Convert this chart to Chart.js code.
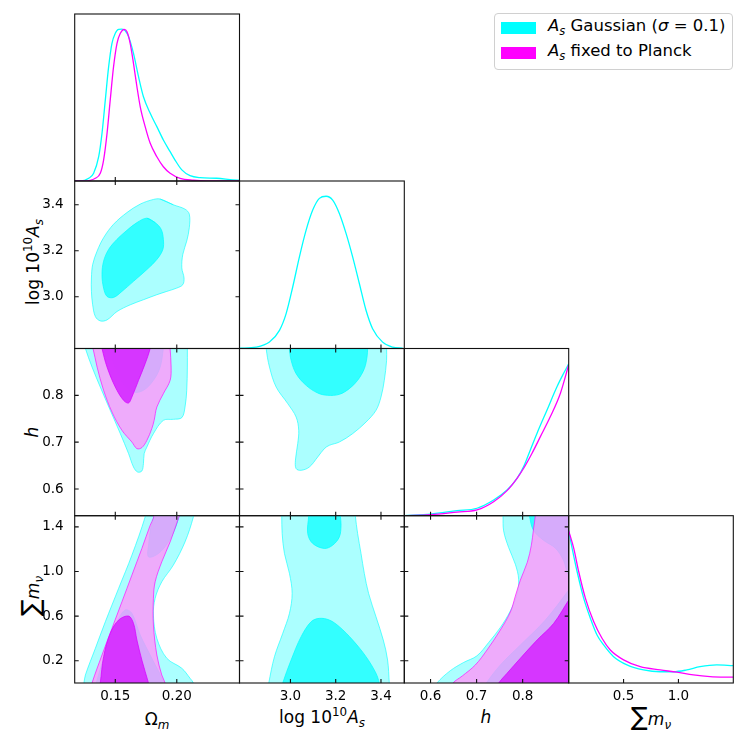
<!DOCTYPE html>
<html>
<head>
<meta charset="utf-8">
<script src="https://cdn.jsdelivr.net/npm/chart.js@4.4.1/dist/chart.umd.min.js"></script>
<style>
  body { margin: 0; width: 747px; height: 747px; position: relative; overflow: hidden; background: #fff; font-family: "DejaVu Sans", sans-serif; }
  canvas { position: absolute; left: 0; top: 0; }
  .lab { position: absolute; font-size: 17px; white-space: nowrap; transform: translate(-50%, -50%); color: #000; }
  .rot { transform: translate(-50%, -50%) rotate(-90deg); }
  .lab sub, .lab sup, .legend sub { font-size: 70%; line-height: 0; }
  .big { font-size: 25px; }
  .legend { position: absolute; left: 494px; top: 13px; width: 239px; height: 57px; box-sizing: border-box; border: 1px solid #d0d0d0; border-radius: 4px; background: #fff; font-size: 16.5px; }
  .legend .sw { position: absolute; left: 6px; width: 35px; height: 12px; }
  .legend .t { position: absolute; left: 53px; white-space: nowrap; }
</style>
</head>
<body>
<div class="legend">
  <div class="sw" style="top:8px;background:#00ffff"></div>
  <div class="t" style="top:2px"><i>A</i><sub><i>s</i></sub> Gaussian (<i>σ</i> = 0.1)</div>
  <div class="sw" style="top:33px;background:#ff00ff"></div>
  <div class="t" style="top:27px"><i>A</i><sub><i>s</i></sub> fixed to Planck</div>
</div>
<div class="lab" style="left:157px;top:719px">Ω<sub><i>m</i></sub></div>
<div class="lab" style="left:322px;top:717px">log 10<sup>10</sup><i>A</i><sub><i>s</i></sub></div>
<div class="lab" style="left:486px;top:717px"><i>h</i></div>
<div class="lab" style="left:651px;top:716px"><span class="big">∑</span><i>m</i><sub><i>ν</i></sub></div>
<div class="lab rot" style="left:33px;top:262px">log 10<sup>10</sup><i>A</i><sub><i>s</i></sub></div>
<div class="lab rot" style="left:32px;top:432px"><i>h</i></div>
<div class="lab rot" style="left:30px;top:596px"><span class="big">∑</span><i>m</i><sub><i>ν</i></sub></div>
<script>
// axis limits and ticks
const omRange = [0.117, 0.251];
const asRange = [2.775, 3.503];
const hRange = [0.543, 0.9];
const mnuRange = [0, 1.5];
const pdfRange = [0, 1.1];
const omTicks = [0.15, 0.20];
const asTicks = [3.0, 3.2, 3.4];
const hTicks = [0.6, 0.7, 0.8];
const mnuTicks = [0.2, 0.6, 1.0, 1.4];
const mnuMargTicks = [0.5, 1.0];

// 1D marginals (peak normalised to 1)
const omX_c = [0.117, 0.1216, 0.1284, 0.1324, 0.1365, 0.1392, 0.1419, 0.1446, 0.1473, 0.15, 0.1527, 0.1554, 0.1581, 0.1608, 0.1648, 0.1689, 0.1729, 0.1784, 0.1838, 0.1891, 0.1946, 0.1986, 0.2041, 0.2108, 0.2189, 0.2324, 0.2459, 0.251];
const omY_c = [0, 0, 0.018, 0.051, 0.160, 0.314, 0.534, 0.753, 0.907, 0.973, 0.999, 1.0, 0.990, 0.951, 0.841, 0.687, 0.555, 0.446, 0.358, 0.270, 0.193, 0.138, 0.073, 0.035, 0.022, 0.018, 0.007, 0.005];
const omX_m = [0.117, 0.1243, 0.1338, 0.1378, 0.1405, 0.1433, 0.1459, 0.1486, 0.1514, 0.1541, 0.1573, 0.1595, 0.1621, 0.1648, 0.1676, 0.1703, 0.1743, 0.1784, 0.1838, 0.1891, 0.1946, 0.2027, 0.2135, 0.2243, 0.251];
const omY_m = [0, 0, 0.018, 0.051, 0.138, 0.314, 0.534, 0.753, 0.907, 0.973, 0.999, 0.983, 0.907, 0.775, 0.621, 0.489, 0.358, 0.248, 0.160, 0.094, 0.051, 0.018, 0.005, 0, 0];
const asX = [2.775, 2.8487, 2.9074, 2.9515, 2.981, 3.0101, 3.0397, 3.0693, 3.0984, 3.1279, 3.1575, 3.1866, 3.2161, 3.2457, 3.2748, 3.3044, 3.3339, 3.363, 3.4072, 3.4513, 3.4954];
const asY = [0.002, 0.009, 0.042, 0.119, 0.229, 0.404, 0.602, 0.777, 0.909, 0.986, 1.0, 0.975, 0.887, 0.756, 0.602, 0.427, 0.251, 0.130, 0.042, 0.009, 0.002];
const hX_c = [0.543, 0.5999, 0.6574, 0.7009, 0.737, 0.7661, 0.7878, 0.8022, 0.8167, 0.8313, 0.853, 0.8748, 0.8891, 0.9];
const hY_c = [0, 0.011, 0.033, 0.049, 0.103, 0.169, 0.246, 0.323, 0.433, 0.543, 0.696, 0.850, 0.937, 0.999];
const hX_m = [0.543, 0.5999, 0.6574, 0.7009, 0.737, 0.7661, 0.7878, 0.8022, 0.8204, 0.8385, 0.8602, 0.882, 0.9];
const hY_m = [0, 0.007, 0.024, 0.038, 0.092, 0.165, 0.246, 0.312, 0.411, 0.520, 0.652, 0.806, 0.993];
const mnuX_c = [0, 0.0309, 0.0764, 0.1364, 0.1973, 0.2582, 0.3182, 0.4091, 0.5309, 0.6818, 0.8336, 0.9545, 1.0764, 1.1973, 1.3491, 1.4973];
const mnuY_c = [1.0, 0.887, 0.733, 0.558, 0.426, 0.316, 0.250, 0.173, 0.119, 0.086, 0.074, 0.074, 0.086, 0.107, 0.119, 0.114];
const mnuX_m = [0, 0.0455, 0.0909, 0.1518, 0.2273, 0.3036, 0.3791, 0.5, 0.6518, 0.8336, 0.9855, 1.1364, 1.2882, 1.4973];
const mnuY_m = [1.0, 0.887, 0.733, 0.558, 0.404, 0.294, 0.217, 0.152, 0.107, 0.086, 0.071, 0.053, 0.042, 0.038];

// 2D contours (68% / 95%), [x, y] vertices
const omAsC95 = [[0.1865,3.4245],[0.1972,3.3996],[0.2067,3.3807],[0.2102,3.3589],[0.2102,3.3002],[0.2081,3.242],[0.2049,3.1838],[0.2041,3.1252],[0.2059,3.0814],[0.2049,3.0525],[0.2,3.0376],[0.1919,3.0232],[0.1838,3.0088],[0.1729,2.9869],[0.1622,2.965],[0.1514,2.9357],[0.1433,2.8993],[0.1378,2.895],[0.1338,2.9138],[0.1316,2.965],[0.1306,3.0232],[0.1306,3.0814],[0.1316,3.14],[0.1352,3.1982],[0.1405,3.2565],[0.1486,3.3151],[0.1595,3.3659],[0.1703,3.4026],[0.181,3.4228]];
const omAsC68 = [[0.1757,3.3414],[0.1824,3.3221],[0.1873,3.2932],[0.1891,3.2495],[0.1887,3.2057],[0.1838,3.1619],[0.1757,3.1182],[0.1648,3.067],[0.1554,3.0232],[0.1486,2.9969],[0.1433,3.0013],[0.1405,3.0376],[0.1392,3.0963],[0.1405,3.1545],[0.1446,3.2057],[0.1514,3.2495],[0.1595,3.2888],[0.1676,3.3221]];

const omHC95 = [[0.122,0.935],[0.1257,0.9],[0.1311,0.8604],[0.1378,0.8177],[0.1459,0.768],[0.1541,0.7182],[0.1608,0.6756],[0.1648,0.647],[0.1681,0.6363],[0.1716,0.6384],[0.1729,0.6542],[0.1735,0.6756],[0.1757,0.6896],[0.181,0.7182],[0.1891,0.7466],[0.1972,0.7488],[0.2041,0.7524],[0.2067,0.775],[0.2081,0.8107],[0.2086,0.8604],[0.2086,0.9],[0.2086,0.935]];
const omHC68 = [[0.143,0.935],[0.1459,0.9],[0.15,0.8604],[0.1567,0.825],[0.1648,0.807],[0.1729,0.8107],[0.181,0.832],[0.1865,0.8604],[0.1891,0.9],[0.191,0.935]];
const omHM95 = [[0.128,0.935],[0.1319,0.9],[0.1352,0.8604],[0.1405,0.8107],[0.1473,0.7644],[0.1554,0.7253],[0.1635,0.7003],[0.1676,0.6862],[0.1716,0.6884],[0.1757,0.7039],[0.1797,0.7289],[0.1816,0.7466],[0.1838,0.775],[0.1891,0.8036],[0.1946,0.832],[0.1954,0.8604],[0.1946,0.9],[0.194,0.935]];
const omHM68 = [[0.1365,0.935],[0.1392,0.9],[0.1433,0.8604],[0.15,0.8177],[0.1567,0.7893],[0.1608,0.7836],[0.1635,0.7964],[0.1689,0.832],[0.1743,0.8677],[0.1784,0.9],[0.181,0.935]];

const asHC95 = [[2.888,0.935],[2.8928,0.9],[2.9074,0.8604],[2.9369,0.8177],[2.9881,0.7823],[3.0251,0.7537],[3.0366,0.7253],[3.0322,0.6969],[3.0221,0.6617],[3.0251,0.6435],[3.0472,0.6399],[3.0838,0.647],[3.1204,0.6683],[3.15,0.6862],[3.172,0.6933],[3.2161,0.7003],[3.2748,0.7182],[3.3339,0.743],[3.378,0.768],[3.4001,0.7964],[3.4147,0.832],[3.4248,0.8747],[3.4248,0.9],[3.4248,0.935]];
const asHC68 = [[2.994,0.935],[2.9956,0.9],[3.0031,0.8747],[3.0251,0.8463],[3.0693,0.8213],[3.1204,0.805],[3.1645,0.8],[3.2161,0.8021],[3.2602,0.8143],[3.2968,0.832],[3.3264,0.857],[3.3383,0.8818],[3.341,0.9],[3.342,0.935]];

const omMC95 = [[0.1235,-0.05],[0.1245,0],[0.1257,0.072],[0.1338,0.311],[0.1419,0.549],[0.1527,0.848],[0.1635,1.146],[0.1743,1.489],[0.175,1.56],[0.214,1.56],[0.2135,1.489],[0.2067,1.265],[0.1972,1.057],[0.1878,0.907],[0.1824,0.759],[0.181,0.609],[0.1838,0.40],[0.1919,0.2215],[0.2041,0.132],[0.2108,0.0424],[0.2135,0],[0.214,-0.05]];
const omMC68a = [[0.1338,-0.05],[0.1345,0],[0.1432,0.311],[0.1515,0.549],[0.158,0.655],[0.1635,0.625],[0.1703,0.43],[0.1797,0.2215],[0.1891,0.013],[0.1895,-0.05]];
const omMC68b = [[0.183,1.56],[0.1818,1.5],[0.179,1.40],[0.1772,1.25],[0.177,1.131],[0.1851,1.161],[0.1932,1.265],[0.1986,1.385],[0.2013,1.475],[0.2025,1.56]];
const omMM95 = [[0.1305,-0.05],[0.1311,0],[0.1392,0.251],[0.1473,0.49],[0.1554,0.728],[0.1635,0.967],[0.1716,1.206],[0.1784,1.415],[0.181,1.48],[0.1825,1.56],[0.2035,1.56],[0.2013,1.475],[0.1946,1.265],[0.1878,1.086],[0.1824,0.907],[0.181,0.759],[0.181,0.52],[0.1838,0.251],[0.1878,0.072],[0.1905,0],[0.191,-0.05]];
const omMM68 = [[0.137,-0.05],[0.1378,0],[0.1405,0.2358],[0.1459,0.4453],[0.1527,0.5644],[0.1608,0.6002],[0.1648,0.5348],[0.1676,0.3853],[0.1716,0.2063],[0.177,0],[0.178,-0.05]];

const asMC95 = [[2.902,-0.05],[2.9043,0],[2.9294,0.2358],[2.966,0.4453],[2.9956,0.6244],[3.0075,0.8034],[2.9956,0.9825],[2.9735,1.1616],[2.9634,1.3406],[2.9616,1.5],[2.961,1.56],[3.286,1.56],[3.2867,1.5],[3.2968,1.3406],[3.3118,1.1616],[3.3264,0.9825],[3.3453,0.8034],[3.378,0.5939],[3.4102,0.3853],[3.4292,0.2063],[3.4367,0],[3.438,-0.05]];
const asMC68a = [[2.962,-0.05],[2.966,0],[3.0031,0.2063],[3.0472,0.4152],[3.0913,0.5492],[3.1279,0.5796],[3.172,0.5644],[3.2161,0.5044],[3.2748,0.3853],[3.3339,0.2358],[3.378,0.0872],[3.3926,0],[3.396,-0.05]];
const asMC68b = [[3.081,1.56],[3.0807,1.5],[3.0763,1.3406],[3.0984,1.251],[3.15,1.2063],[3.1866,1.2357],[3.2161,1.31],[3.2236,1.4148],[3.2205,1.5],[3.22,1.56]];

const hMC95 = [[0.61,-0.05],[0.6139,0],[0.6428,0.11],[0.6717,0.1839],[0.7008,0.2439],[0.7261,0.363],[0.7515,0.4973],[0.7733,0.6468],[0.7878,0.7963],[0.7913,0.9306],[0.7841,1.0649],[0.7696,1.2143],[0.7587,1.3639],[0.7574,1.5],[0.757,1.56],[0.93,1.56],[0.93,-0.05]];
const hMC68a = [[0.715,-0.05],[0.7211,0],[0.7515,0.1615],[0.795,0.3406],[0.8493,0.5644],[0.9,0.8329],[0.93,1.0],[0.93,-0.05]];
const hMC68b = [[0.812,1.56],[0.8146,1.5],[0.8233,1.3701],[0.845,1.2806],[0.8711,1.209],[0.8885,1.1016],[0.9,0.9672],[0.93,0.85],[0.93,1.56]];
const hMM95 = [[0.645,-0.05],[0.6487,0],[0.6689,0.063],[0.6972,0.1615],[0.7226,0.2958],[0.7515,0.4748],[0.7733,0.636],[0.7841,0.7792],[0.795,0.9225],[0.8102,1.0836],[0.8189,1.2358],[0.8233,1.3701],[0.8276,1.5],[0.829,1.56],[0.93,1.56],[0.93,-0.05]];
const hMM68 = [[0.742,-0.05],[0.7478,0],[0.7661,0.0872],[0.795,0.2215],[0.8313,0.3853],[0.8674,0.5348],[0.9,0.7434],[0.93,0.93],[0.93,-0.05]];

// layout
const colEdges = [74.7, 239.5, 404.3, 568.7, 733.3];
const rowEdges = [14, 181, 348.5, 515.7, 683];
const Y_AXIS_W = 74, X_AXIS_H = 40;
const CYAN = '#00ffff', MAGENTA = '#ff00ff';
const FILL = {
  c95: ['rgba(0,255,255,0.33)', 'rgba(0,255,255,0.75)'],
  c68: ['rgba(0,255,255,0.7)', 'rgba(0,255,255,0.9)'],
  m95: ['rgba(255,150,250,0.8)', 'rgba(255,0,255,0.8)'],
  m68: ['rgba(214,51,255,0.97)', 'rgba(214,0,255,0.9)']
};

const AX = {
  om: { range: omRange, ticks: omTicks, dec: 2 },
  as: { range: asRange, ticks: asTicks, dec: 1 },
  h: { range: hRange, ticks: hTicks, dec: 1 },
  mnu: { range: mnuRange, ticks: mnuTicks, dec: 1 },
  mnuMarg: { range: mnuRange, ticks: mnuMargTicks, dec: 1 },
  pdf: { range: pdfRange, ticks: [], dec: 1 }
};

Chart.register({
  id: 'panelFrame',
  afterDraw(chart, args, o) {
    const { ctx, chartArea: a, scales: { x, y } } = chart;
    ctx.save();
    ctx.strokeStyle = '#111';
    ctx.lineWidth = 1.1;
    ctx.strokeRect(a.left, a.top, a.right - a.left, a.bottom - a.top);
    ctx.beginPath();
    o.xt.forEach(v => {
      const px = x.getPixelForValue(v);
      ctx.moveTo(px, a.bottom); ctx.lineTo(px, a.bottom - 4);
      if (o.box) { ctx.moveTo(px, a.top); ctx.lineTo(px, a.top + 4); }
    });
    o.yt.forEach(v => {
      const py = y.getPixelForValue(v);
      ctx.moveTo(a.left, py); ctx.lineTo(a.left + 4, py);
      ctx.moveTo(a.right, py); ctx.lineTo(a.right - 4, py);
    });
    ctx.stroke();
    ctx.restore();
  }
});

function contour(pairs, kind, closed) {
  const pts = pairs.map(p => ({ x: p[0], y: p[1] }));
  if (closed) pts.push(pts[0], pts[1]);
  return {
    data: pts, fill: 'shape', backgroundColor: FILL[kind][0], borderColor: FILL[kind][1],
    borderWidth: 0.8, pointRadius: 0, tension: 0.35, clip: 0
  };
}

function curve(xs, ys, color) {
  return {
    data: xs.map((v, i) => ({ x: v, y: ys[i] })), fill: false, borderColor: color,
    borderWidth: 1.3, pointRadius: 0, cubicInterpolationMode: 'monotone', clip: 0
  };
}

function scaleOpts(ax, show, pos) {
  const horiz = pos === 'bottom';
  return {
    type: 'linear', position: pos, min: ax.range[0], max: ax.range[1], display: show,
    afterFit: s => {
      if (!show) return;
      if (horiz) s.height = X_AXIS_H; else s.width = Y_AXIS_W;
    },
    afterBuildTicks: s => { s.ticks = ax.ticks.map(v => ({ value: v })); },
    grid: { display: false, drawTicks: false },
    border: { display: false },
    ticks: {
      autoSkip: false, maxRotation: 0, padding: horiz ? 5 : 11, color: '#000',
      font: { family: 'DejaVu Sans', size: 13.5 },
      callback: v => Number(v).toFixed(ax.dec)
    }
  };
}

function panel(row, col, xAx, yAx, datasets, marginal) {
  const cv = document.createElement('canvas');
  cv.width = 747; cv.height = 747;
  document.body.appendChild(cv);
  const showX = row === 3;
  const showY = col === 0 && !marginal;
  new Chart(cv, {
    type: 'line',
    data: { datasets },
    options: {
      responsive: false, animation: false, events: [],
      layout: { padding: {
        left: colEdges[col] - (showY ? Y_AXIS_W : 0),
        right: 747 - colEdges[col + 1],
        top: rowEdges[row],
        bottom: 747 - rowEdges[row + 1] - (showX ? X_AXIS_H : 0)
      } },
      plugins: {
        legend: { display: false }, tooltip: { enabled: false },
        panelFrame: { xt: xAx.ticks, yt: marginal ? [] : yAx.ticks, box: !marginal }
      },
      scales: { x: scaleOpts(xAx, showX, 'bottom'), y: scaleOpts(yAx, showY, 'left') }
    }
  });
}

panel(0, 0, AX.om, AX.pdf, [curve(omX_m, omY_m, MAGENTA), curve(omX_c, omY_c, CYAN)], true);
panel(1, 0, AX.om, AX.as, [contour(omAsC68, 'c68', true), contour(omAsC95, 'c95', true)]);
panel(1, 1, AX.as, AX.pdf, [curve(asX, asY, CYAN)], true);
panel(2, 0, AX.om, AX.h, [contour(omHM68, 'm68'), contour(omHM95, 'm95'), contour(omHC68, 'c68'), contour(omHC95, 'c95')]);
panel(2, 1, AX.as, AX.h, [contour(asHC68, 'c68'), contour(asHC95, 'c95')]);
panel(2, 2, AX.h, AX.pdf, [curve(hX_m, hY_m, MAGENTA), curve(hX_c, hY_c, CYAN)], true);
panel(3, 0, AX.om, AX.mnu, [contour(omMM68, 'm68'), contour(omMM95, 'm95'), contour(omMC68a, 'c68'), contour(omMC68b, 'c68'), contour(omMC95, 'c95')]);
panel(3, 1, AX.as, AX.mnu, [contour(asMC68a, 'c68'), contour(asMC68b, 'c68'), contour(asMC95, 'c95')]);
panel(3, 2, AX.h, AX.mnu, [contour(hMM68, 'm68'), contour(hMM95, 'm95'), contour(hMC68a, 'c68'), contour(hMC68b, 'c68'), contour(hMC95, 'c95')]);
panel(3, 3, AX.mnuMarg, AX.pdf, [curve(mnuX_m, mnuY_m, MAGENTA), curve(mnuX_c, mnuY_c, CYAN)], true);
</script>
</body>
</html>
